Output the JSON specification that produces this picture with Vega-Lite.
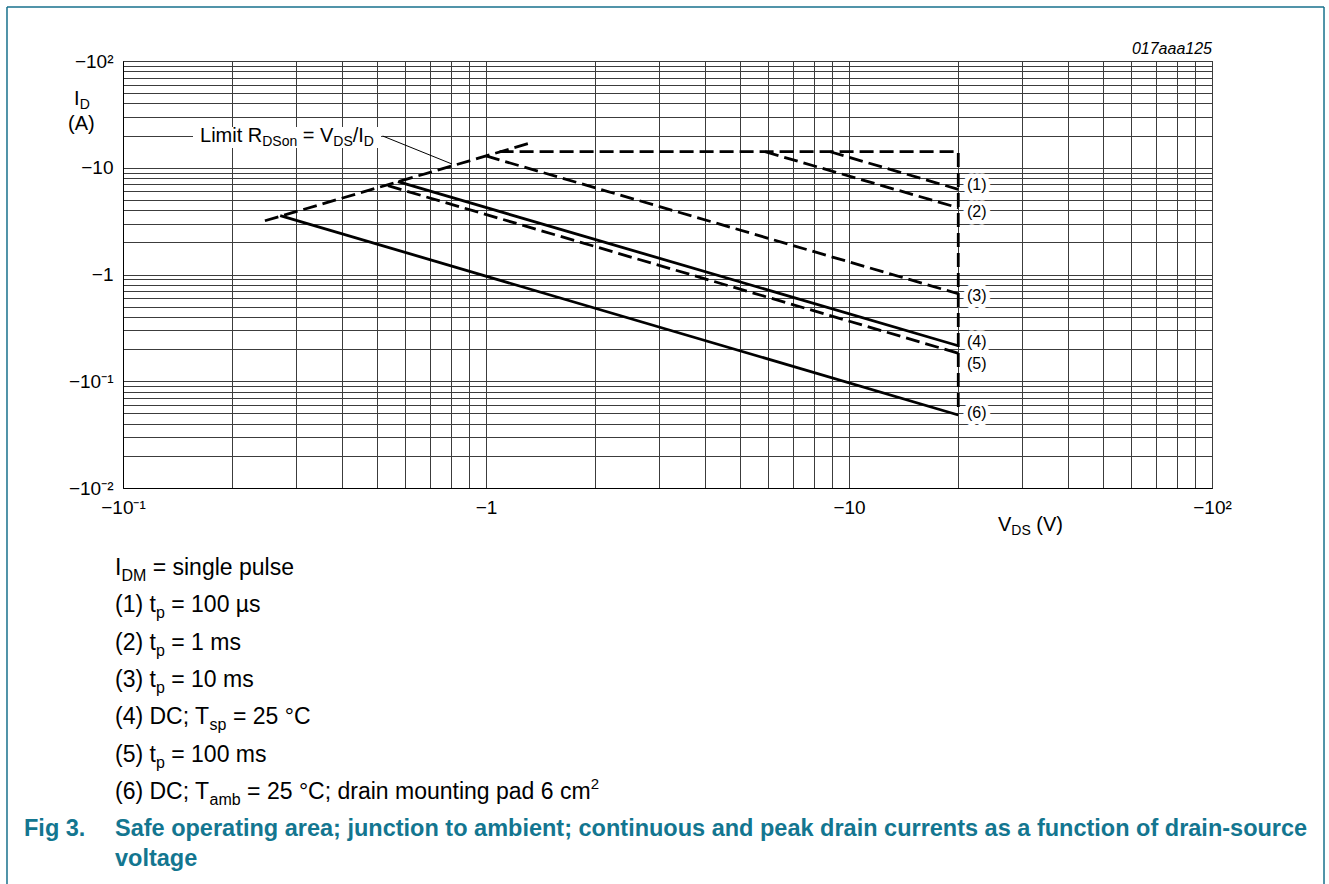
{
  "$schema": "https://vega.github.io/schema/vega-lite/v6.json",
  "width": 1089,
  "height": 427,
  "autosize": {"type": "none"},
  "padding": {"left": 123, "top": 61, "right": 117, "bottom": 396},
  "background": "white",
  "config": {
    "font": "Liberation Sans",
    "view": {"stroke": "black", "strokeWidth": 1}
  },
  "datasets": {
    "curves": [
      {"s": "lim", "o": 0, "V": 0.246, "I": 3.19},
      {"s": "lim", "o": 1, "V": 1.35, "I": 17.4},
      {"s": "top", "o": 0, "V": 1.09, "I": 14.13},
      {"s": "top", "o": 1, "V": 20, "I": 14.13},
      {"s": "top", "o": 2, "V": 20, "I": 0.0562},
      {"s": "c1", "o": 0, "V": 8.87, "I": 14.13},
      {"s": "c1", "o": 1, "V": 20, "I": 6.28},
      {"s": "c2", "o": 0, "V": 5.87, "I": 14.13},
      {"s": "c2", "o": 1, "V": 20, "I": 4.22},
      {"s": "c3", "o": 0, "V": 1.0, "I": 12.9},
      {"s": "c3", "o": 1, "V": 20, "I": 0.66},
      {"s": "c4", "o": 0, "V": 0.572, "I": 7.4},
      {"s": "c4", "o": 1, "V": 20, "I": 0.215},
      {"s": "c5", "o": 0, "V": 0.537, "I": 6.79},
      {"s": "c5", "o": 1, "V": 20, "I": 0.183},
      {"s": "c6", "o": 0, "V": 0.271, "I": 3.56},
      {"s": "c6", "o": 1, "V": 20, "I": 0.0483}
    ],
    "lines": [
      {"k": "frame", "V": 0.04791, "V2": 0.04791, "I": 320.5, "I2": 0.000001382},
      {"k": "frame", "V": 203.5, "V2": 203.5, "I": 320.5, "I2": 0.000001382},
      {"k": "frame", "V": 0.04791, "V2": 203.5, "I": 320.5, "I2": 320.5},
      {"k": "leader", "V": 0.5193, "V2": 0.806, "I": 19.83, "I2": 10.84}
    ],
    "box": [
      {"V": 0.1559, "V2": 0.5137, "I": 15.31, "I2": 24.08}
    ],
    "ann": [
      {"t": "017aaa125", "k": "it", "V": 100, "I": 116.3},
      {"t": "I", "k": "n", "V": 0.07326, "I": 38.71},
      {"t": "D", "k": "s", "V": 0.07595, "I": 38.71},
      {"t": "(A)", "k": "n", "V": 0.07057, "I": 22.58},
      {"t": "V", "k": "n", "V": 25.72, "I": 0.003958},
      {"t": "DS", "k": "s", "V": 28.0, "I": 0.003958},
      {"t": "(V)", "k": "n", "V": 32.81, "I": 0.003958},
      {"t": "Limit R", "k": "n", "V": 0.163, "I": 17.42},
      {"t": "DSon", "k": "s", "V": 0.2418, "I": 17.42},
      {"t": "= V", "k": "n", "V": 0.3129, "I": 17.42},
      {"t": "DS", "k": "s", "V": 0.3797, "I": 17.42},
      {"t": "/I", "k": "n", "V": 0.4294, "I": 17.42},
      {"t": "D", "k": "s", "V": 0.4607, "I": 17.42},
      {"t": "(1)", "k": "cl", "V": 21.14, "I": 6.893},
      {"t": "(2)", "k": "cl", "V": 21.14, "I": 3.826},
      {"t": "(3)", "k": "cl", "V": 21.14, "I": 0.6329},
      {"t": "(4)", "k": "cl", "V": 21.14, "I": 0.2316},
      {"t": "(5)", "k": "cl", "V": 21.14, "I": 0.1441},
      {"t": "(6)", "k": "cl", "V": 21.14, "I": 0.0501},
      {"t": "I", "k": "nb", "V": 0.09505, "I": 0.001531},
      {"t": "DM", "k": "ns", "V": 0.09899, "I": 0.001531},
      {"t": "= single pulse", "k": "nb", "V": 0.1207, "I": 0.001531},
      {"t": "(1) t", "k": "nb", "V": 0.09505, "I": 0.0006848},
      {"t": "p", "k": "ns", "V": 0.1232, "I": 0.0006848},
      {"t": "= 100 µs", "k": "nb", "V": 0.1358, "I": 0.0006848},
      {"t": "(2) t", "k": "nb", "V": 0.09505, "I": 0.0003057},
      {"t": "p", "k": "ns", "V": 0.1232, "I": 0.0003057},
      {"t": "= 1 ms", "k": "nb", "V": 0.1358, "I": 0.0003057},
      {"t": "(3) t", "k": "nb", "V": 0.09505, "I": 0.0001367},
      {"t": "p", "k": "ns", "V": 0.1232, "I": 0.0001367},
      {"t": "= 10 ms", "k": "nb", "V": 0.1358, "I": 0.0001367},
      {"t": "(4) DC; T", "k": "nb", "V": 0.09505, "I": 0.00006114},
      {"t": "sp", "k": "ns", "V": 0.1732, "I": 0.00006114},
      {"t": "= 25 °C", "k": "nb", "V": 0.2008, "I": 0.00006114},
      {"t": "(5) t", "k": "nb", "V": 0.09505, "I": 0.0000273},
      {"t": "p", "k": "ns", "V": 0.1232, "I": 0.0000273},
      {"t": "= 100 ms", "k": "nb", "V": 0.1358, "I": 0.0000273},
      {"t": "(6) DC; T", "k": "nb", "V": 0.09505, "I": 0.00001221},
      {"t": "amb", "k": "ns", "V": 0.1732, "I": 0.00001221},
      {"t": "= 25 °C; drain mounting pad 6 cm", "k": "nb", "V": 0.2197, "I": 0.00001221},
      {"t": "2", "k": "np", "V": 1.942, "I": 0.00001221},
      {"t": "Fig 3.", "k": "cap", "V": 0.05337, "I": 0.000005496},
      {"t": "Safe operating area; junction to ambient; continuous and peak drain currents as a function of drain-source", "k": "cap", "V": 0.09505, "I": 0.000005496},
      {"t": "voltage", "k": "cap", "V": 0.09505, "I": 0.000002877}
    ]
  },
  "encoding": {
    "x": {
      "field": "V",
      "type": "quantitative",
      "scale": {"type": "log", "domain": [0.1, 100], "nice": false},
      "axis": {
        "title": null,
        "values": [0.1, 0.2, 0.3, 0.4, 0.5, 0.6, 0.7, 0.8, 0.9, 1, 2, 3, 4, 5, 6, 7, 8, 9, 10, 20, 30, 40, 50, 60, 70, 80, 90, 100],
        "labelExpr": "datum.value === 0.1 ? '−10⁻¹' : datum.value === 1 ? '−1' : datum.value === 10 ? '−10' : datum.value === 100 ? '−10²' : ''",
        "grid": true,
        "gridColor": "#3c3c3c",
        "gridWidth": 1,
        "gridOpacity": 1,
        "ticks": false,
        "tickSize": 0,
        "domain": true,
        "domainColor": "black",
        "labelFont": "Liberation Sans",
        "labelFontSize": 19,
        "labelColor": "black",
        "labelPadding": 10,
        "labelFlush": false,
        "labelOverlap": false,
        "labelBound": false
      }
    },
    "y": {
      "field": "I",
      "type": "quantitative",
      "scale": {"type": "log", "domain": [0.01, 100], "nice": false},
      "axis": {
        "title": null,
        "values": [0.01, 0.02, 0.03, 0.04, 0.05, 0.06, 0.07, 0.08, 0.09, 0.1, 0.2, 0.3, 0.4, 0.5, 0.6, 0.7, 0.8, 0.9, 1, 2, 3, 4, 5, 6, 7, 8, 9, 10, 20, 30, 40, 50, 60, 70, 80, 90, 100],
        "labelExpr": "datum.value === 0.01 ? '−10⁻²' : datum.value === 0.1 ? '−10⁻¹' : datum.value === 1 ? '−1' : datum.value === 10 ? '−10' : datum.value === 100 ? '−10²' : ''",
        "grid": true,
        "gridColor": "#3c3c3c",
        "gridWidth": 1,
        "gridOpacity": 1,
        "ticks": false,
        "tickSize": 0,
        "domain": true,
        "domainColor": "black",
        "labelFont": "Liberation Sans",
        "labelFontSize": 19,
        "labelColor": "black",
        "labelPadding": 10,
        "labelFlush": false,
        "labelOverlap": false,
        "labelBound": false
      }
    }
  },
  "layer": [
    {
      "data": {"name": "box"},
      "mark": {"type": "rect", "fill": "white", "stroke": null},
      "encoding": {"x2": {"field": "V2"}, "y2": {"field": "I2"}}
    },
    {
      "data": {"name": "lines"},
      "transform": [{"filter": "datum.k === 'frame'"}],
      "mark": {"type": "rule", "color": "#17718c", "strokeWidth": 1.5},
      "encoding": {"x2": {"field": "V2"}, "y2": {"field": "I2"}}
    },
    {
      "data": {"name": "lines"},
      "transform": [{"filter": "datum.k === 'leader'"}],
      "mark": {"type": "rule", "color": "black", "strokeWidth": 1},
      "encoding": {"x2": {"field": "V2"}, "y2": {"field": "I2"}}
    },
    {
      "data": {"name": "ann"},
      "transform": [{"filter": "datum.k === 'cl'"}],
      "mark": {"type": "text", "fontSize": 16, "align": "left", "baseline": "middle", "fill": "white", "stroke": "white", "strokeWidth": 9, "strokeJoin": "round"},
      "encoding": {"text": {"field": "t"}}
    },
    {
      "data": {"name": "curves"},
      "transform": [{"filter": "datum.s !== 'c4' && datum.s !== 'c6'"}],
      "mark": {"type": "line", "color": "black", "strokeWidth": 2.8, "strokeDash": [14, 6], "strokeCap": "butt"},
      "encoding": {"detail": {"field": "s"}, "order": {"field": "o", "type": "quantitative"}}
    },
    {
      "data": {"name": "curves"},
      "transform": [{"filter": "datum.s === 'c4' || datum.s === 'c6'"}],
      "mark": {"type": "line", "color": "black", "strokeWidth": 2.8},
      "encoding": {"detail": {"field": "s"}, "order": {"field": "o", "type": "quantitative"}}
    },
    {
      "data": {"name": "ann"},
      "transform": [{"filter": "datum.k === 'n'"}],
      "mark": {"type": "text", "fontSize": 20, "align": "left", "baseline": "alphabetic", "color": "black"},
      "encoding": {"text": {"field": "t"}}
    },
    {
      "data": {"name": "ann"},
      "transform": [{"filter": "datum.k === 's'"}],
      "mark": {"type": "text", "fontSize": 14, "align": "left", "baseline": "alphabetic", "dy": 4, "color": "black"},
      "encoding": {"text": {"field": "t"}}
    },
    {
      "data": {"name": "ann"},
      "transform": [{"filter": "datum.k === 'cl'"}],
      "mark": {"type": "text", "fontSize": 16, "align": "left", "baseline": "middle", "color": "black"},
      "encoding": {"text": {"field": "t"}}
    },
    {
      "data": {"name": "ann"},
      "transform": [{"filter": "datum.k === 'it'"}],
      "mark": {"type": "text", "fontSize": 16, "fontStyle": "italic", "align": "right", "baseline": "alphabetic", "color": "black"},
      "encoding": {"text": {"field": "t"}}
    },
    {
      "data": {"name": "ann"},
      "transform": [{"filter": "datum.k === 'nb'"}],
      "mark": {"type": "text", "fontSize": 23, "align": "left", "baseline": "alphabetic", "color": "black"},
      "encoding": {"text": {"field": "t"}}
    },
    {
      "data": {"name": "ann"},
      "transform": [{"filter": "datum.k === 'ns'"}],
      "mark": {"type": "text", "fontSize": 16, "align": "left", "baseline": "alphabetic", "dy": 6, "color": "black"},
      "encoding": {"text": {"field": "t"}}
    },
    {
      "data": {"name": "ann"},
      "transform": [{"filter": "datum.k === 'np'"}],
      "mark": {"type": "text", "fontSize": 15, "align": "left", "baseline": "alphabetic", "dy": -10, "color": "black"},
      "encoding": {"text": {"field": "t"}}
    },
    {
      "data": {"name": "ann"},
      "transform": [{"filter": "datum.k === 'cap'"}],
      "mark": {"type": "text", "fontSize": 23.5, "fontWeight": "bold", "align": "left", "baseline": "alphabetic", "color": "#137690"},
      "encoding": {"text": {"field": "t"}}
    }
  ]
}
